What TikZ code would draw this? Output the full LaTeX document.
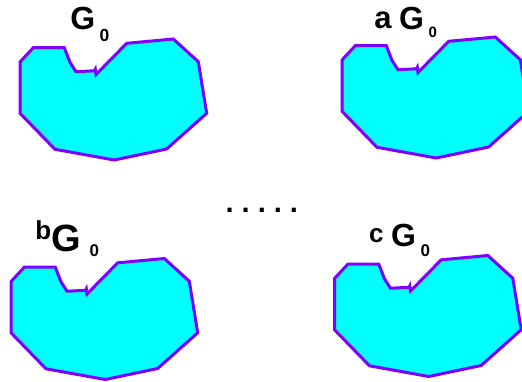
\documentclass[tikz,border=0pt]{standalone}
\usepackage{fontspec}
\setmainfont{Liberation Sans}
\definecolor{blobedge}{RGB}{128,0,255}
\definecolor{blobfill}{RGB}{0,255,255}
\tikzset{
  blobstyle/.style={draw=blobedge, fill=blobfill, line width=3pt, line join=miter},
  blob/.pic={
    \path[blobstyle] (20,62) -- (33.3,47.7) -- (64.3,47.7) -- (70,62.3) -- (76,71.7)
      -- (94.5,70.8) -- (95.3,69.3) -- (96,74.5) -- (126.7,43.3) -- (173.3,39)
      -- (198.3,61.7) -- (206.7,113.3) -- (166.7,149) -- (114.3,160) -- (55,149.3)
      -- (20,113.3) -- cycle;
  },
  lbl/.style={inner sep=0pt, outer sep=0pt, anchor=base west},
  fsz/.style={font=\bfseries\fontsize{#1}{#1}\selectfont},
}
\begin{document}
\begin{tikzpicture}[x=1pt, y=-1pt]
  \clip (0,0) rectangle (522,381);
  \fill[white] (0,0) rectangle (522,381);
  % shapes
  \pic (b1) at (0,0) {blob};
  \pic (b2) at (322,-2) {blob};
  \pic (b3) at (-9,219.5) {blob};
  \pic (b4) at (314.5,216.5) {blob};
  % label 1
  \node[lbl, fsz=32] (g1) at (70.3,29.7) {G};
  \node[lbl, fsz=17.5] (z1) at (99.7,41.5) {0};
  % label 2
  \node[lbl, fsz=31] (a2) at (374.3,28.8) {a};
  \node[lbl, fsz=32] (g2) at (399,29.5) {G};
  \node[lbl, fsz=15] (z2) at (428.5,37) {0};
  % label 3
  \node[lbl, fsz=26] (b3l) at (35.3,239) {b};
  \node[lbl, fsz=38] (g3) at (51.5,251) {G};
  \node[lbl, fsz=17] (z3) at (89.5,256.5) {0};
  % label 4
  \node[lbl, fsz=26] (c4) at (369,242.5) {c};
  \node[lbl, fsz=32] (g4) at (391,246) {G};
  \node[lbl, fsz=17] (z4) at (420.5,256.5) {0};
  % dots
  \node[lbl, fsz=29] (dots) at (225.7,212.3) {.\kern8pt.\kern8pt.\kern8pt.\kern8pt.};
\end{tikzpicture}
\end{document}
